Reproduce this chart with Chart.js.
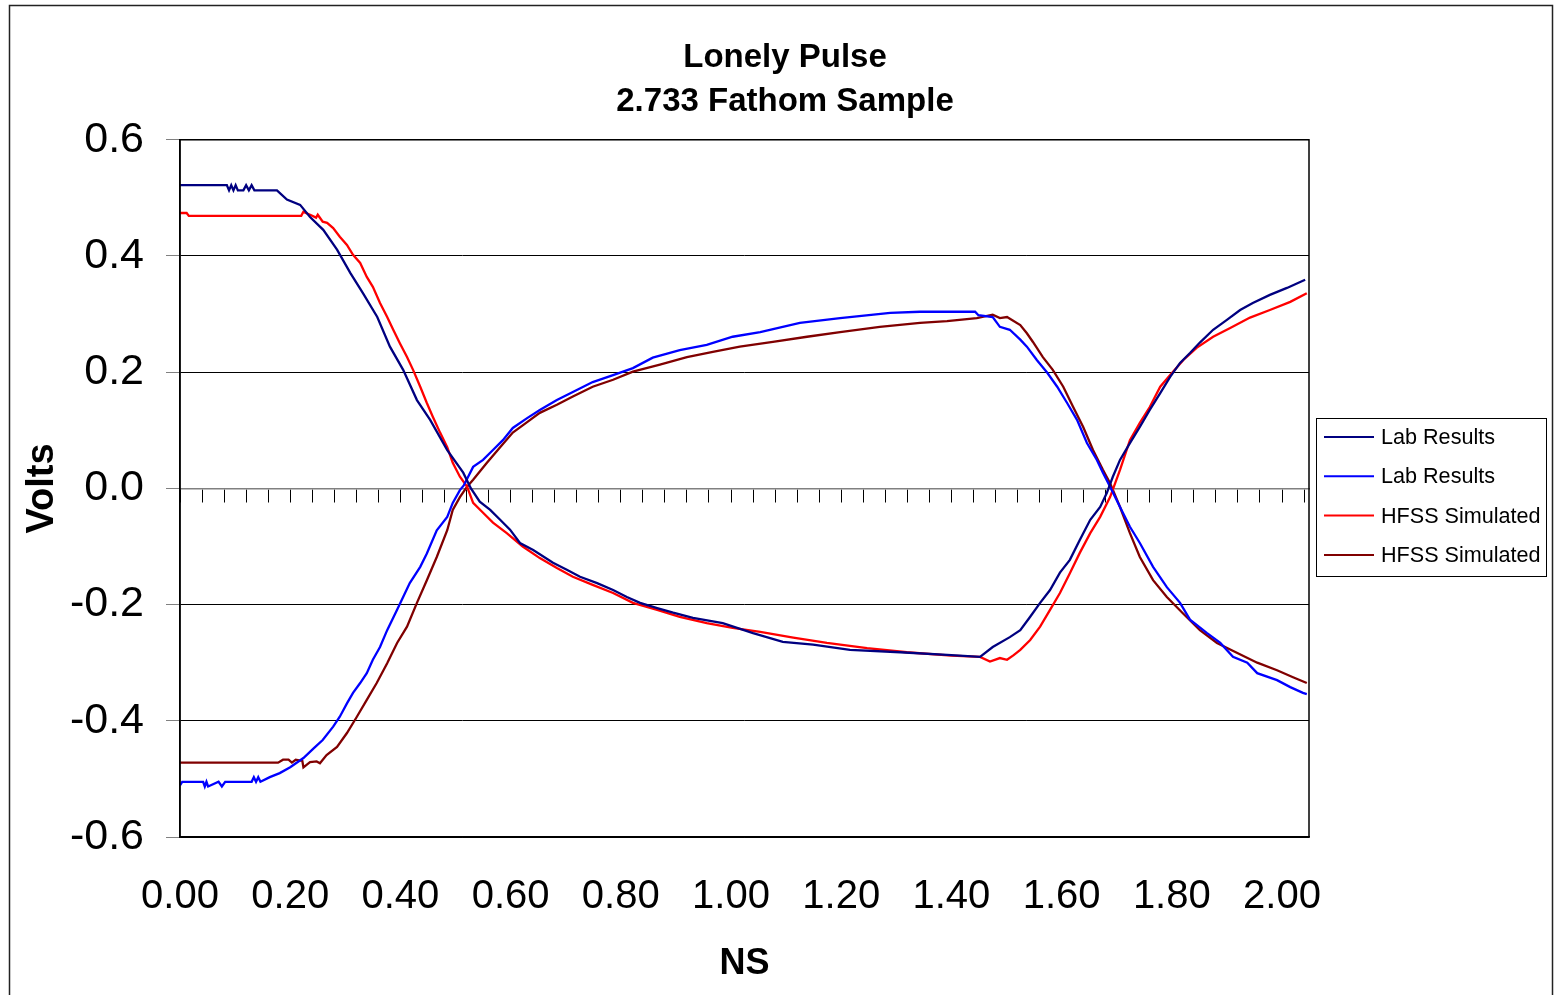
<!DOCTYPE html>
<html>
<head>
<meta charset="utf-8">
<title>Lonely Pulse</title>
<script src="https://cdn.jsdelivr.net/npm/chart.js@4.4.1/dist/chart.umd.min.js"></script>
<style>
  html, body { margin: 0; padding: 0; background: #fff; overflow: hidden; }
  #wrap { position: relative; width: 1562px; height: 995px; }
</style>
</head>
<body>
<div id="wrap"><canvas id="pulseChart" width="1562" height="995"></canvas></div>
<script>
// 1. DATOS (tiempo en ns, tensión en V)
const chartTitle = ['Lonely Pulse', '2.733 Fathom Sample'];
const seriesNames = ['Lab Results', 'Lab Results', 'HFSS Simulated', 'HFSS Simulated'];
const seriesColors = ['#000080', '#0000FF', '#FF0000', '#800000'];

const xTicks = [0, 0.2, 0.4, 0.6, 0.8, 1.0, 1.2, 1.4, 1.6, 1.8, 2.0];
const xTickLabels = ['0.00', '0.20', '0.40', '0.60', '0.80', '1.00', '1.20', '1.40', '1.60', '1.80', '2.00'];
const yTicks = [-0.6, -0.4, -0.2, 0, 0.2, 0.4, 0.6];
const yTickLabels = ['-0.6', '-0.4', '-0.2', '0.0', '0.2', '0.4', '0.6'];
const X_MAX = 2.049;

// Lab Results (azul marino)
const labNavyT = [0.000, 0.080, 0.085, 0.089, 0.093, 0.097, 0.101, 0.105, 0.115, 0.120, 0.125, 0.130, 0.135, 0.176,
  0.194, 0.218, 0.236, 0.260, 0.285, 0.309, 0.332, 0.358, 0.381, 0.405, 0.430, 0.454, 0.485, 0.514, 0.528,
  0.544, 0.563, 0.581, 0.599, 0.617, 0.641, 0.677, 0.702, 0.726, 0.757, 0.786, 0.811, 0.835, 0.866, 0.895,
  0.931, 0.985, 1.040, 1.094, 1.149, 1.216, 1.307, 1.400, 1.452, 1.475, 1.506, 1.525, 1.543, 1.561, 1.579,
  1.597, 1.615, 1.633, 1.652, 1.670, 1.682, 1.693, 1.706, 1.724, 1.742, 1.760, 1.779, 1.797, 1.815, 1.833,
  1.851, 1.875, 1.900, 1.924, 1.947, 1.978, 2.009, 2.042];
const labNavyV = [0.522, 0.522, 0.522, 0.513, 0.522, 0.513, 0.522, 0.513, 0.513, 0.522, 0.513, 0.522, 0.513, 0.513,
  0.497, 0.488, 0.467, 0.445, 0.411, 0.371, 0.336, 0.295, 0.244, 0.204, 0.152, 0.118, 0.066, 0.027, 0.000,
  -0.023, -0.037, -0.054, -0.071, -0.094, -0.106, -0.128, -0.140, -0.152, -0.163, -0.175, -0.187, -0.197, -0.206, -0.214,
  -0.223, -0.232, -0.249, -0.264, -0.269, -0.278, -0.282, -0.287, -0.290, -0.273, -0.256, -0.244, -0.221, -0.197, -0.175,
  -0.145, -0.123, -0.089, -0.054, -0.032, -0.008, 0.020, 0.049, 0.078, 0.106, 0.135, 0.164, 0.192, 0.216, 0.233,
  0.251, 0.273, 0.290, 0.307, 0.319, 0.333, 0.345, 0.359];

// Lab Results (azul)
const labBlueT = [0.000, 0.004, 0.042, 0.045, 0.048, 0.051, 0.070, 0.076, 0.082, 0.130, 0.134, 0.138, 0.142, 0.146, 0.163,
  0.181, 0.200, 0.224, 0.243, 0.259, 0.278, 0.290, 0.303, 0.314, 0.327, 0.339, 0.350, 0.363, 0.376, 0.394,
  0.405, 0.417, 0.436, 0.448, 0.466, 0.485, 0.495, 0.508, 0.515, 0.532, 0.550, 0.568, 0.586, 0.604, 0.630,
  0.653, 0.684, 0.713, 0.749, 0.786, 0.822, 0.858, 0.907, 0.956, 1.003, 1.053, 1.125, 1.198, 1.289, 1.343,
  1.443, 1.449, 1.475, 1.488, 1.506, 1.525, 1.537, 1.555, 1.574, 1.592, 1.610, 1.628, 1.646, 1.664, 1.675,
  1.688, 1.706, 1.724, 1.742, 1.766, 1.791, 1.815, 1.833, 1.864, 1.888, 1.911, 1.937, 1.955, 1.991, 2.015,
  2.038, 2.045];
const labBlueV = [-0.511, -0.505, -0.505, -0.513, -0.505, -0.513, -0.505, -0.513, -0.505, -0.505, -0.497, -0.505, -0.497, -0.505, -0.497,
  -0.490, -0.480, -0.464, -0.447, -0.433, -0.410, -0.393, -0.370, -0.352, -0.335, -0.318, -0.295, -0.273, -0.244, -0.209,
  -0.187, -0.163, -0.135, -0.112, -0.072, -0.049, -0.025, -0.003, 0.005, 0.037, 0.049, 0.066, 0.083, 0.104, 0.121,
  0.135, 0.152, 0.166, 0.183, 0.195, 0.207, 0.225, 0.238, 0.247, 0.261, 0.269, 0.285, 0.293, 0.302, 0.304,
  0.304, 0.298, 0.295, 0.278, 0.273, 0.256, 0.244, 0.221, 0.199, 0.175, 0.147, 0.118, 0.078, 0.049, 0.027,
  0.003, -0.032, -0.066, -0.094, -0.135, -0.170, -0.197, -0.226, -0.249, -0.266, -0.290, -0.300, -0.318, -0.330, -0.342,
  -0.352, -0.354];

// HFSS Simulated (rojo)
const hfssRedT = [0.000, 0.012, 0.016, 0.220, 0.224, 0.236, 0.247, 0.250, 0.259, 0.267, 0.278, 0.290, 0.303, 0.314,
  0.327, 0.339, 0.350, 0.363, 0.376, 0.387, 0.399, 0.412, 0.423, 0.436, 0.448, 0.459, 0.472, 0.485, 0.495,
  0.508, 0.521, 0.532, 0.550, 0.568, 0.593, 0.622, 0.653, 0.684, 0.713, 0.749, 0.786, 0.822, 0.866, 0.907,
  0.956, 1.003, 1.053, 1.113, 1.174, 1.247, 1.319, 1.400, 1.452, 1.470, 1.488, 1.501, 1.513, 1.525, 1.543,
  1.561, 1.579, 1.597, 1.615, 1.633, 1.652, 1.670, 1.688, 1.706, 1.724, 1.742, 1.760, 1.779, 1.797, 1.821,
  1.845, 1.875, 1.906, 1.942, 1.978, 2.015, 2.045];
const hfssRedV = [0.474, 0.474, 0.469, 0.469, 0.476, 0.471, 0.466, 0.471, 0.459, 0.457, 0.448, 0.433, 0.419, 0.402,
  0.388, 0.364, 0.347, 0.319, 0.295, 0.273, 0.250, 0.226, 0.204, 0.175, 0.147, 0.123, 0.096, 0.071, 0.044,
  0.020, 0.003, -0.025, -0.042, -0.059, -0.077, -0.100, -0.120, -0.137, -0.152, -0.166, -0.180, -0.197, -0.209, -0.221,
  -0.232, -0.240, -0.247, -0.257, -0.266, -0.275, -0.282, -0.288, -0.290, -0.298, -0.292, -0.295, -0.287, -0.278, -0.261,
  -0.238, -0.209, -0.180, -0.146, -0.111, -0.077, -0.049, -0.015, 0.032, 0.083, 0.113, 0.140, 0.175, 0.195, 0.221,
  0.242, 0.261, 0.276, 0.294, 0.307, 0.321, 0.336];

// HFSS Simulated (granate)
const hfssMaroonT = [0.000, 0.178, 0.187, 0.197, 0.203, 0.210, 0.222, 0.224, 0.236, 0.248, 0.254, 0.266, 0.285, 0.303,
  0.321, 0.339, 0.357, 0.376, 0.394, 0.412, 0.430, 0.448, 0.466, 0.485, 0.495, 0.508, 0.521, 0.532, 0.557,
  0.581, 0.604, 0.630, 0.653, 0.684, 0.713, 0.749, 0.786, 0.822, 0.871, 0.920, 0.967, 1.016, 1.076, 1.138,
  1.198, 1.270, 1.343, 1.392, 1.446, 1.475, 1.488, 1.501, 1.525, 1.537, 1.548, 1.566, 1.584, 1.603, 1.621,
  1.639, 1.657, 1.675, 1.688, 1.706, 1.724, 1.742, 1.766, 1.791, 1.820, 1.851, 1.882, 1.918, 1.955, 1.991,
  2.020, 2.045];
const hfssMaroonV = [-0.472, -0.472, -0.467, -0.467, -0.472, -0.467, -0.469, -0.480, -0.471, -0.470, -0.473, -0.459, -0.445, -0.421,
  -0.393, -0.364, -0.335, -0.301, -0.266, -0.238, -0.197, -0.158, -0.118, -0.072, -0.037, -0.015, 0.003, 0.015, 0.044,
  0.071, 0.096, 0.114, 0.130, 0.144, 0.158, 0.175, 0.187, 0.201, 0.213, 0.226, 0.235, 0.244, 0.252, 0.261,
  0.269, 0.278, 0.285, 0.288, 0.293, 0.299, 0.293, 0.295, 0.281, 0.267, 0.252, 0.226, 0.204, 0.175, 0.140,
  0.106, 0.066, 0.032, 0.009, -0.032, -0.077, -0.118, -0.158, -0.187, -0.215, -0.244, -0.266, -0.283, -0.300, -0.313,
  -0.325, -0.335];

// 2. ESTILO GENERAL
const FONT = "'Liberation Sans', Arial, Helvetica, sans-serif";
Chart.defaults.font.family = FONT;
Chart.defaults.color = '#000';

function toPoints(ts, vs) {
    return ts.map((t, i) => ({ x: t, y: vs[i] }));
}

const seriesData = [
    toPoints(labNavyT, labNavyV),
    toPoints(labBlueT, labBlueV),
    toPoints(hfssRedT, hfssRedV),
    toPoints(hfssMaroonT, hfssMaroonV)
];

// 3. PLUGINS: marco exterior, borde del área de trazado y leyenda con recuadro
const outerFrame = {
    id: 'outerFrame',
    beforeDraw(chart) {
        const ctx = chart.ctx;
        ctx.save();
        ctx.fillStyle = '#fff';
        ctx.fillRect(0, 0, chart.width, chart.height);
        ctx.strokeStyle = '#222';
        ctx.lineWidth = 1.5;
        ctx.strokeRect(9.5, 5.5, chart.width - 19, chart.height + 50);
        ctx.restore();
    }
};

const plotFrame = {
    id: 'plotFrame',
    afterDraw(chart) {
        const { ctx, chartArea: a } = chart;
        ctx.save();
        ctx.strokeStyle = '#000';
        ctx.lineWidth = 1.5;
        ctx.strokeRect(a.left, a.top, a.right - a.left, a.bottom - a.top);
        ctx.restore();
    }
};

const boxedLegend = {
    id: 'boxedLegend',
    afterDraw(chart) {
        const { ctx, chartArea: a } = chart;
        const rowH = 39.3;
        const w = 230;
        const h = 158;
        const x = a.right + 7;
        const y = chart.height / 2 - h / 2 - 0.5;
        ctx.save();
        ctx.strokeStyle = '#000';
        ctx.lineWidth = 1;
        ctx.strokeRect(Math.round(x) + 0.5, Math.round(y) + 0.5, w, h);
        ctx.font = '21.6px ' + FONT;
        ctx.textBaseline = 'middle';
        ctx.textAlign = 'left';
        chart.data.datasets.forEach((ds, i) => {
            const cy = y + 19 + i * rowH;
            ctx.strokeStyle = ds.borderColor;
            ctx.lineWidth = 2;
            ctx.beginPath();
            ctx.moveTo(x + 8, cy);
            ctx.lineTo(x + 58, cy);
            ctx.stroke();
            ctx.fillStyle = '#000';
            ctx.fillText(ds.label, x + 65, cy + 1);
        });
        ctx.restore();
    }
};

// 4. GRÁFICO
new Chart(document.getElementById('pulseChart').getContext('2d'), {
    type: 'line',
    data: {
        datasets: seriesData.map((pts, i) => ({
            label: seriesNames[i],
            data: pts,
            borderColor: seriesColors[i],
            backgroundColor: seriesColors[i],
            borderWidth: 2.3,
            pointRadius: 0,
            tension: 0,
            xAxisID: 'x',
            yAxisID: 'y'
        }))
    },
    options: {
        responsive: false,
        animation: false,
        events: [],
        layout: { padding: { left: 8, right: 0, top: 0, bottom: 0 } },
        plugins: {
            legend: { display: false },
            tooltip: { enabled: false },
            title: {
                display: true,
                text: chartTitle,
                color: '#000',
                font: { family: FONT, size: 33, weight: 'bold', lineHeight: 1.33 },
                padding: { top: 36, bottom: 16 }
            }
        },
        scales: {
            x: {
                type: 'linear',
                position: 'bottom',
                min: 0,
                max: X_MAX,
                afterBuildTicks: s => { s.ticks = xTicks.map(v => ({ value: v })); },
                afterFit: s => { s.height = 158; },
                ticks: {
                    callback: (v, i) => xTickLabels[i],
                    font: { size: 40 },
                    padding: 36,
                    maxRotation: 0,
                    autoSkip: false
                },
                grid: { display: false, drawTicks: false },
                border: { display: true, color: '#000', width: 1.5 },
                title: {
                    display: true,
                    text: 'NS',
                    font: { size: 36, weight: 'bold' },
                    padding: { top: 0, bottom: 9 }
                }
            },
            // eje auxiliar sobre y = 0 con las marcas menores
            x2: {
                type: 'linear',
                axis: 'x',
                position: { y: 0 },
                min: 0,
                max: X_MAX,
                ticks: { display: false, stepSize: 0.04, includeBounds: false },
                grid: { drawOnChartArea: false, tickLength: 13, tickColor: '#000', lineWidth: 1 },
                border: { display: true, color: '#808080', width: 1.5 }
            },
            y: {
                type: 'linear',
                position: 'left',
                min: -0.6,
                max: 0.6,
                afterBuildTicks: s => { s.ticks = yTicks.map(v => ({ value: v })); },
                afterFit: s => { s.width = 172; },
                ticks: {
                    callback: (v, i) => yTickLabels[i],
                    font: { size: 43 },
                    padding: 22
                },
                grid: {
                    color: c => (c.tick && c.tick.value === 0 ? '#808080' : '#000'),
                    lineWidth: 1,
                    tickLength: 14,
                    tickColor: '#808080'
                },
                border: { display: true, color: '#000', width: 1.5 },
                title: {
                    display: true,
                    text: 'Volts',
                    font: { size: 38, weight: 'bold' },
                    padding: { top: 12, bottom: 0 }
                }
            },
            // eje derecho vacío: deja el hueco donde va la leyenda
            yLegend: {
                type: 'linear',
                axis: 'y',
                position: 'right',
                min: -0.6,
                max: 0.6,
                afterFit: s => { s.width = 253; },
                ticks: { display: false },
                grid: { display: false, drawTicks: false },
                border: { display: false }
            }
        }
    },
    plugins: [outerFrame, plotFrame, boxedLegend]
});
</script>
</body>
</html>
